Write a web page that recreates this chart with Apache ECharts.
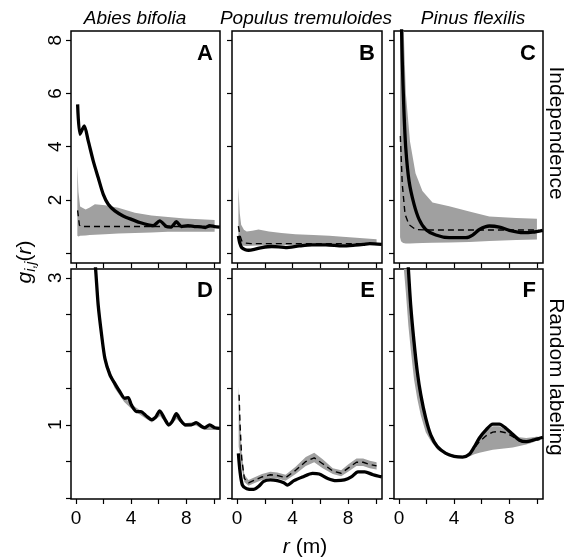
<!DOCTYPE html>
<html>
<head>
<meta charset="utf-8">
<script src="https://cdn.jsdelivr.net/npm/echarts@6/dist/echarts.min.js"></script>
<style>
  html, body { margin: 0; padding: 0; background: #fff; }
  #chart { width: 564px; height: 560px; }
</style>
</head>
<body>
<div id="chart"></div>
<script>
// column titles, row labels, panel letters
const speciesNames = ['Abies bifolia', 'Populus tremuloides', 'Pinus flexilis'];
const rowNames = ['Independence', 'Random labeling'];
const panelLetters = ['A', 'B', 'C', 'D', 'E', 'F'];

// tick values
const xTicks = [0, 2, 4, 6, 8, 10];
const xTickLabels = [0, 4, 8];
const yTicksTop = [0, 2, 4, 6, 8];
const yLabelsTop = [2, 4, 6, 8];
const yTicksBottom = [0, 0.5, 1, 1.5, 2, 2.5, 3];
const yLabelsBottom = [1, 3];

// A : Abies, independence
const aObsX = [0.12, 0.29, 0.6, 0.89, 1.25, 1.61, 1.98, 2.34, 2.82, 3.42, 4.02, 4.63, 5.23, 5.59, 6.07, 6.55, 6.9, 7.28, 7.64, 8.12, 8.6, 9.08, 9.37, 9.69, 10.05, 10.42];
const aObs = [5.59, 4.47, 4.78, 4.22, 3.47, 2.84, 2.21, 1.84, 1.59, 1.40, 1.27, 1.15, 1.06, 1.03, 1.21, 1.0, 0.98, 1.18, 1.0, 1.03, 1.0, 0.99, 0.96, 1.03, 1.0, 0.98];
const aTheoX = [0.12, 0.25, 0.4, 10.05];
const aTheo = [1.61, 1.05, 1.0, 1.0];
const aEnvX = [0.1, 0.18, 0.3, 0.7, 1.0, 1.37, 2.1, 3.06, 4.27, 5.47, 6.67, 7.88, 9.0, 10.05];
const aHi = [3.28, 2.3, 1.75, 1.64, 1.72, 1.84, 1.8, 1.71, 1.52, 1.42, 1.36, 1.30, 1.27, 1.25];
const aLo = [0.65, 0.63, 0.65, 0.66, 0.68, 0.69, 0.71, 0.74, 0.76, 0.78, 0.8, 0.8, 0.8, 0.8];

// B : Populus, independence
const bObsX = [0.1, 0.2, 0.34, 0.6, 0.83, 1.31, 1.8, 2.5, 3.0, 3.5, 4.47, 5.4, 6.4, 7.6, 8.5, 9.1, 9.56, 10.42];
const bObs = [0.65, 0.38, 0.21, 0.13, 0.11, 0.15, 0.21, 0.25, 0.24, 0.21, 0.27, 0.31, 0.31, 0.27, 0.30, 0.33, 0.36, 0.33];
const bTheoX = [0.1, 0.2, 0.34, 0.6, 1.0, 10.05];
const bTheo = [1.02, 0.7, 0.46, 0.38, 0.36, 0.36];
const bEnvX = [0.1, 0.2, 0.3, 0.5, 0.7, 1.1, 1.55, 2.3, 3.2, 4.2, 5.5, 6.65, 7.6, 8.6, 10.05];
const bHi = [2.49, 1.5, 1.07, 0.88, 0.81, 0.84, 0.89, 0.81, 0.76, 0.71, 0.68, 0.65, 0.62, 0.58, 0.52];
const bLo = [0.5, 0.35, 0.3, 0.28, 0.27, 0.28, 0.29, 0.3, 0.3, 0.3, 0.31, 0.32, 0.32, 0.32, 0.32];

// C : Pinus, independence
const cObsX = [0.12, 0.19, 0.24, 0.36, 0.49, 0.73, 1.09, 1.46, 1.94, 2.67, 3.64, 4.85, 5.34, 5.83, 6.55, 7.28, 8.0, 8.98, 9.7, 10.42];
const cObs = [10.5, 8.4, 7.22, 5.35, 3.97, 2.71, 1.84, 1.27, 0.89, 0.68, 0.58, 0.58, 0.68, 0.89, 1.02, 0.98, 0.86, 0.77, 0.79, 0.86];
const cTheoX = [0.1, 0.24, 0.44, 0.73, 1.2, 2.0, 10.1];
const cTheo = [4.4, 2.59, 1.46, 1.07, 0.89, 0.87, 0.87];
const cEnvX = [0.08, 0.15, 0.3, 0.5, 0.8, 1.2, 1.7, 2.43, 3.64, 5.1, 6.55, 8.5, 10.0];
const cHi = [12, 12, 9, 6, 4.2, 3.0, 2.34, 1.9, 1.76, 1.57, 1.38, 1.32, 1.29];
const cLo = [0.6, 0.45, 0.38, 0.36, 0.36, 0.37, 0.38, 0.39, 0.4, 0.42, 0.46, 0.49, 0.51];

// D : Abies, random labeling
const dObsX = [1.2, 1.42, 1.61, 1.86, 2.1, 2.46, 2.82, 3.18, 3.54, 3.78, 4.02, 4.39, 4.7, 5.1, 5.47, 5.76, 6.07, 6.43, 6.72, 6.96, 7.28, 7.59, 7.93, 8.36, 8.72, 9.08, 9.33, 9.69, 10.05, 10.42];
const dObs = [3.6, 3.13, 2.63, 2.22, 1.9, 1.68, 1.56, 1.45, 1.36, 1.37, 1.27, 1.18, 1.18, 1.12, 1.07, 1.1, 1.19, 1.08, 1.0, 1.04, 1.15, 1.06, 1.0, 1.0, 1.03, 0.98, 0.96, 1.0, 0.96, 0.95];
const dEnvX = [1.2, 1.6, 2.1, 2.8, 3.5, 4.0, 4.7, 5.5, 6.1, 6.7, 7.3, 7.9, 8.7, 9.3, 10.05];
const dHi = [3.6, 2.65, 1.92, 1.58, 1.38, 1.28, 1.19, 1.08, 1.18, 1.02, 1.14, 1.02, 1.04, 0.98, 0.98];
const dLo = [3.45, 2.55, 1.83, 1.5, 1.31, 1.22, 1.13, 1.03, 1.12, 0.97, 1.08, 0.97, 0.99, 0.93, 0.93];

// E : Populus, random labeling
const eObsX = [0.1, 0.22, 0.39, 0.7, 1.19, 1.55, 1.92, 2.4, 2.9, 3.37, 3.62, 4.1, 4.71, 5.44, 5.92, 6.53, 7.14, 7.74, 8.23, 8.71, 9.2, 9.8, 10.42];
const eObs = [0.61, 0.36, 0.18, 0.13, 0.12, 0.16, 0.23, 0.25, 0.24, 0.21, 0.18, 0.24, 0.29, 0.34, 0.33, 0.27, 0.24, 0.25, 0.29, 0.36, 0.36, 0.32, 0.29];
const eTheoX = [0.15, 0.22, 0.34, 0.53, 0.83, 1.31, 1.8, 2.4, 2.9, 3.5, 4.22, 4.95, 5.56, 6.17, 6.9, 7.5, 8.0, 8.6, 9.08, 9.56, 10.05];
const eTheo = [1.41, 1.0, 0.54, 0.27, 0.21, 0.25, 0.29, 0.32, 0.31, 0.28, 0.38, 0.5, 0.55, 0.47, 0.37, 0.34, 0.41, 0.49, 0.49, 0.46, 0.44];
const eEnvX = [0.12, 0.22, 0.34, 0.53, 0.83, 1.31, 1.8, 2.4, 2.9, 3.5, 4.22, 4.95, 5.56, 6.17, 6.9, 7.5, 8.0, 8.6, 9.08, 9.56, 10.05];
const eHi = [1.52, 1.1, 0.62, 0.32, 0.25, 0.29, 0.33, 0.36, 0.35, 0.32, 0.43, 0.56, 0.62, 0.53, 0.41, 0.38, 0.46, 0.54, 0.54, 0.51, 0.49];
const eLo = [0.7, 0.6, 0.42, 0.22, 0.17, 0.21, 0.25, 0.28, 0.27, 0.24, 0.33, 0.44, 0.49, 0.41, 0.33, 0.30, 0.36, 0.44, 0.44, 0.41, 0.39];

// F : Pinus, random labeling
const fObsX = [0.5, 0.68, 0.85, 1.09, 1.33, 1.58, 1.94, 2.31, 2.79, 3.4, 4.0, 4.61, 5.1, 5.46, 5.83, 6.31, 6.8, 7.28, 7.77, 8.25, 8.74, 9.22, 9.7, 10.44];
const fObs = [3.7, 3.13, 2.63, 2.13, 1.72, 1.41, 1.09, 0.86, 0.70, 0.61, 0.57, 0.56, 0.60, 0.70, 0.82, 0.93, 1.01, 1.01, 0.95, 0.87, 0.79, 0.77, 0.79, 0.83];
const fTheoX = [0.6, 0.85, 1.09, 1.33, 1.58, 1.94, 2.31, 2.79, 3.4, 4.0, 4.61, 5.1, 5.46, 5.83, 6.31, 6.8, 7.28, 7.77, 8.25, 8.74, 9.22, 9.7, 10.2];
const fTheo = [3.3, 2.58, 2.08, 1.68, 1.38, 1.07, 0.85, 0.70, 0.61, 0.57, 0.56, 0.60, 0.68, 0.77, 0.85, 0.9, 0.91, 0.89, 0.84, 0.78, 0.76, 0.78, 0.80];
const fEnvX = [0.35, 0.5, 0.68, 0.85, 1.09, 1.33, 1.58, 1.94, 2.31, 2.79, 3.4, 4.0, 4.61, 5.1, 5.46, 5.83, 6.31, 6.8, 7.28, 7.77, 8.25, 8.74, 9.22, 9.7, 10.05];
const fHi = [3.8, 3.75, 3.18, 2.68, 2.17, 1.76, 1.44, 1.12, 0.89, 0.73, 0.63, 0.59, 0.58, 0.62, 0.72, 0.82, 0.92, 0.98, 0.98, 0.93, 0.87, 0.83, 0.82, 0.83, 0.84];
const fLo = [3.13, 2.8, 2.35, 2.03, 1.62, 1.35, 1.13, 0.9, 0.78, 0.66, 0.59, 0.56, 0.55, 0.57, 0.6, 0.62, 0.64, 0.66, 0.67, 0.68, 0.69, 0.71, 0.73, 0.76, 0.79];

const panels = [
  { obsX: aObsX, obs: aObs, theoX: aTheoX, theo: aTheo, envX: aEnvX, hi: aHi, lo: aLo },
  { obsX: bObsX, obs: bObs, theoX: bTheoX, theo: bTheo, envX: bEnvX, hi: bHi, lo: bLo },
  { obsX: cObsX, obs: cObs, theoX: cTheoX, theo: cTheo, envX: cEnvX, hi: cHi, lo: cLo },
  { obsX: dObsX, obs: dObs, theoX: null, theo: null, envX: dEnvX, hi: dHi, lo: dLo },
  { obsX: eObsX, obs: eObs, theoX: eTheoX, theo: eTheo, envX: eEnvX, hi: eHi, lo: eLo },
  { obsX: fObsX, obs: fObs, theoX: fTheoX, theo: fTheo, envX: fEnvX, hi: fHi, lo: fLo }
];

const FONT = 'Liberation Sans, Arial, sans-serif';
const colLeft = [71, 232, 394];
const colWidth = [149, 150, 149];
const rowTop = [31, 269];
const rowHeight = [232, 230];

const zip = (xs, ys) => xs.map((x, k) => [x, ys[k]]);

const grids = [], xAxes = [], yAxes = [], series = [];
panels.forEach((p, i) => {
  const row = Math.floor(i / 3), col = i % 3;
  grids.push({
    left: colLeft[col], top: rowTop[row], width: colWidth[col], height: rowHeight[row],
    show: true, borderColor: '#000', borderWidth: 1.5, backgroundColor: 'transparent',
    containLabel: false, outerBoundsMode: 'none'
  });
  xAxes.push({
    type: 'value', gridIndex: i, min: -0.36, max: 10.44,
    axisLine: { show: false, onZero: false },
    splitLine: { show: false },
    axisTick: { show: true, length: 5, customValues: xTicks, lineStyle: { color: '#000', width: 1.2 } },
    axisLabel: {
      show: row === 1, customValues: xTickLabels, margin: 10,
      color: '#000', fontSize: 19, fontFamily: FONT
    }
  });
  const top = row === 0;
  yAxes.push({
    type: 'value', gridIndex: i,
    min: top ? -0.37 : -0.01, max: top ? 8.35 : 3.12,
    axisLine: { show: false, onZero: false },
    splitLine: { show: false },
    axisTick: { show: true, length: 5, customValues: top ? yTicksTop : yTicksBottom, lineStyle: { color: '#000', width: 1.2 } },
    axisLabel: {
      show: col === 0, customValues: top ? yLabelsTop : yLabelsBottom, rotate: 90, margin: 6,
      color: '#000', fontSize: 19, fontFamily: FONT
    }
  });
  series.push({
    type: 'custom', xAxisIndex: i, yAxisIndex: i, clip: true, silent: true,
    data: [[0, 0]],
    renderItem: (params, api) => {
      const pts = p.envX.map((x, k) => api.coord([x, p.hi[k]]));
      for (let k = p.envX.length - 1; k >= 0; k--) pts.push(api.coord([p.envX[k], p.lo[k]]));
      return { type: 'polygon', shape: { points: pts }, style: { fill: '#a0a0a0' } };
    },
    z: 1
  });
  if (p.theoX) {
    series.push({
      type: 'line', xAxisIndex: i, yAxisIndex: i, data: zip(p.theoX, p.theo),
      showSymbol: false, silent: true, z: 2,
      lineStyle: { color: '#000', width: 1.4, type: [6, 4] }
    });
  }
  series.push({
    type: 'line', xAxisIndex: i, yAxisIndex: i, data: zip(p.obsX, p.obs),
    showSymbol: false, silent: true, smooth: 0.25, z: 3,
    lineStyle: { color: '#000', width: 3.3 }
  });
});

const graphic = [];
const titleX = [135, 306, 473];
speciesNames.forEach((name, c) => {
  graphic.push({
    type: 'text', x: titleX[c], y: 19,
    style: { text: name, font: 'italic 19px ' + FONT, fill: '#000', textAlign: 'center', textVerticalAlign: 'middle' }
  });
});
panelLetters.forEach((letter, i) => {
  const row = Math.floor(i / 3), col = i % 3;
  graphic.push({
    type: 'text', x: colLeft[col] + colWidth[col] - 7, y: row === 0 ? 54 : 291,
    style: { text: letter, font: 'bold 22px ' + FONT, fill: '#000', textAlign: 'right', textVerticalAlign: 'middle' }
  });
});
const rowLabelY = [133, 377];
rowNames.forEach((name, r) => {
  graphic.push({
    type: 'text', x: 556, y: rowLabelY[r], rotation: -Math.PI / 2,
    style: { text: name, font: '21px ' + FONT, fill: '#000', textAlign: 'center', textVerticalAlign: 'middle' }
  });
});
graphic.push({
  type: 'text', x: 305, y: 547,
  style: {
    text: '{i|r} (m)', font: '21px ' + FONT, fill: '#000', textAlign: 'center', textVerticalAlign: 'middle',
    rich: { i: { fontStyle: 'italic', fontSize: 21, fontFamily: FONT } }
  }
});
graphic.push({
  type: 'text', x: 25, y: 262, rotation: Math.PI / 2,
  style: {
    text: '{i|g}{s|i,j}({i|r})', font: '21px ' + FONT, fill: '#000', textAlign: 'center', textVerticalAlign: 'middle',
    rich: {
      i: { fontStyle: 'italic', fontSize: 21, fontFamily: FONT, lineHeight: 26, verticalAlign: 'middle' },
      s: { fontStyle: 'italic', fontSize: 14, fontFamily: FONT, lineHeight: 26, verticalAlign: 'bottom' }
    }
  }
});

const chart = echarts.init(document.getElementById('chart'), null, { renderer: 'canvas' });
chart.setOption({
  animation: false,
  backgroundColor: '#fff',
  textStyle: { fontFamily: FONT },
  grid: grids,
  xAxis: xAxes,
  yAxis: yAxes,
  series: series,
  graphic: graphic
});
</script>
</body>
</html>
